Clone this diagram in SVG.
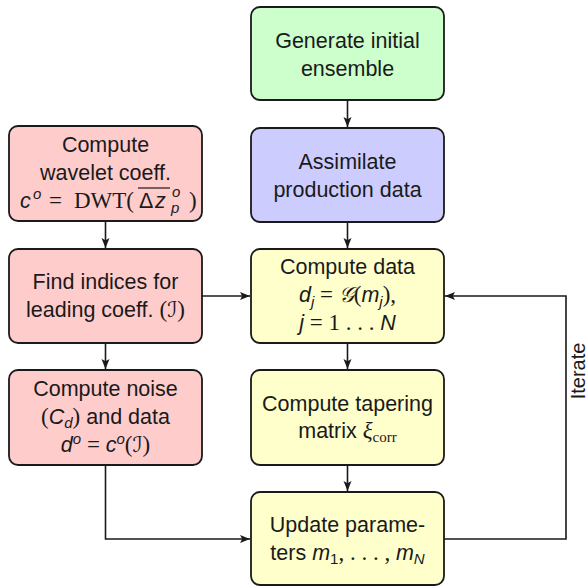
<svg xmlns="http://www.w3.org/2000/svg" width="588" height="586" viewBox="0 0 588 586">
  <style>
    .box { stroke: #1a1a1a; stroke-width: 1.8; }
    .green { fill: #ccffcc; }
    .blue { fill: #ccccff; }
    .red { fill: #ffcccc; }
    .yellow { fill: #ffffcc; }
    text { font-family: "Liberation Sans", "DejaVu Sans", sans-serif; font-size: 21.5px; fill: #1a1a1a; }
    .c { text-anchor: middle; }
    .it { font-style: italic; }
    .rm { font-family: "Liberation Serif", "DejaVu Serif", serif; font-size: 23px; }
    .cal { font-family: "DejaVu Serif", "DejaVu Sans", serif; font-style: italic; }
    .sm { font-size: 15px; }
    .wire { fill: none; stroke: #1a1a1a; stroke-width: 1.6; }
  </style>
  <defs>
    <marker id="arr" markerWidth="11" markerHeight="9" refX="10" refY="4.5" orient="auto" markerUnits="userSpaceOnUse">
      <path d="M0,0.5 L10,4.5 L0,8.5 L2.2,4.5 Z" fill="#1a1a1a"/>
    </marker>
  </defs>

  <!-- connectors -->
  <g id="connectors">
    <line class="wire" x1="347.5" y1="100" x2="347.5" y2="127" marker-end="url(#arr)"/>
    <line class="wire" x1="347.5" y1="222" x2="347.5" y2="248" marker-end="url(#arr)"/>
    <line class="wire" x1="347.5" y1="343" x2="347.5" y2="369" marker-end="url(#arr)"/>
    <line class="wire" x1="347.5" y1="465" x2="347.5" y2="491" marker-end="url(#arr)"/>
    <line class="wire" x1="105.5" y1="221" x2="105.5" y2="248" marker-end="url(#arr)"/>
    <line class="wire" x1="105.5" y1="343" x2="105.5" y2="369" marker-end="url(#arr)"/>
    <line class="wire" x1="202" y1="296" x2="250" y2="296" marker-end="url(#arr)"/>
    <polyline class="wire" points="105.5,465 105.5,539 250,539" marker-end="url(#arr)"/>
    <polyline class="wire" points="444,539 566,539 566,296 445,296" marker-end="url(#arr)"/>
    <text transform="translate(585,371) rotate(-90)" class="c" style="font-size:20px">Iterate</text>
  </g>

  <!-- main column -->
  <g id="generate">
    <rect class="box green" x="251" y="7" width="193" height="93" rx="9"/>
    <text class="c" x="347.5" y="48">Generate initial</text>
    <text class="c" x="347.5" y="76">ensemble</text>
  </g>
  <g id="assimilate">
    <rect class="box blue" x="251" y="128" width="193" height="94" rx="9"/>
    <text class="c" x="347.5" y="169">Assimilate</text>
    <text class="c" x="347.5" y="197">production data</text>
  </g>
  <g id="compute-data">
    <rect class="box yellow" x="251" y="249" width="193" height="94" rx="9"/>
    <text class="c" x="347.5" y="274">Compute data</text>
    <text class="c" x="347.5" y="302"><tspan class="it">d</tspan><tspan class="it sm" dy="5">j</tspan><tspan class="rm" dy="-5"> = </tspan><tspan class="cal">𝒢</tspan><tspan class="rm">(</tspan><tspan class="it">m</tspan><tspan class="it sm" dy="5">j</tspan><tspan class="rm" dy="-5">),</tspan></text>
    <text class="c" x="347.5" y="330"><tspan class="it">j</tspan><tspan class="rm"> = 1 . . . </tspan><tspan class="it">N</tspan></text>
  </g>
  <g id="tapering">
    <rect class="box yellow" x="251" y="370" width="193" height="95" rx="9"/>
    <text class="c" x="347.5" y="411">Compute tapering</text>
    <text class="c" x="347.5" y="438">matrix <tspan class="rm it">ξ</tspan><tspan class="rm sm" dy="4">corr</tspan></text>
  </g>
  <g id="update">
    <rect class="box yellow" x="251" y="492" width="193" height="93" rx="9"/>
    <text class="c" x="347.5" y="532">Update parame-</text>
    <text class="c" x="347.5" y="560">ters <tspan class="it">m</tspan><tspan class="sm" dy="4">1</tspan><tspan class="rm" dy="-4">, . . . , </tspan><tspan class="it">m</tspan><tspan class="it sm" dy="4">N</tspan></text>
  </g>

  <!-- wavelet column -->
  <g id="wavelet">
    <rect class="box red" x="9" y="126" width="193" height="95" rx="9"/>
    <text class="c" x="105.5" y="151.5">Compute</text>
    <text class="c" x="105.5" y="179.5">wavelet coeff.</text>
    <text x="20" y="207.5" class="it">c</text>
    <text x="33" y="199" class="it sm">o</text>
    <text x="49" y="207.5" class="rm">=</text>
    <text x="74" y="207.5" class="rm">DWT(</text>
    <line x1="138" y1="188" x2="170" y2="188" stroke="#1a1a1a" stroke-width="1.2"/>
    <text x="139" y="207.5">Δ</text>
    <text x="155" y="207.5" class="it">z</text>
    <text x="172" y="197" class="it sm">o</text>
    <text x="171" y="213" class="it sm">p</text>
    <text x="189" y="207.5" class="rm">)</text>
  </g>
  <g id="indices">
    <rect class="box red" x="9" y="249" width="193" height="94" rx="9"/>
    <text class="c" x="105.5" y="289">Find indices for</text>
    <text class="c" x="105.5" y="317">leading coeff.  <tspan class="rm">(</tspan><tspan class="cal">ℐ</tspan><tspan class="rm">)</tspan></text>
  </g>
  <g id="noise">
    <rect class="box red" x="9" y="370" width="193" height="95" rx="9"/>
    <text class="c" x="105.5" y="395.5">Compute noise</text>
    <text class="c" x="105.5" y="423.5"><tspan class="rm">(</tspan><tspan class="it">C</tspan><tspan class="it sm" dy="4">d</tspan><tspan class="rm" dy="-4">)</tspan> and data</text>
    <text class="c" x="105.5" y="451.5"><tspan class="it">d</tspan><tspan class="it sm" dy="-8">o</tspan><tspan class="rm" dy="8"> = </tspan><tspan class="it">c</tspan><tspan class="it sm" dy="-8">o</tspan><tspan class="rm" dy="8">(</tspan><tspan class="cal">ℐ</tspan><tspan class="rm">)</tspan></text>
  </g>
</svg>
